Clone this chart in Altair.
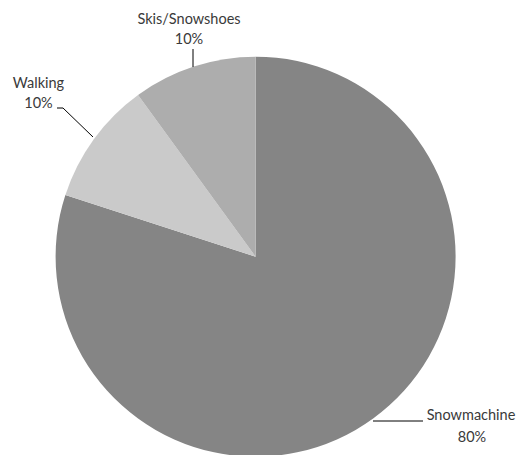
import altair as alt
import pandas as pd

# data
categories = ["Snowmachine", "Walking", "Skis/Snowshoes"]
shares = [80, 10, 10]
colors = ["#858585", "#cacaca", "#adadad"]

# layout (view coordinates, page margin 8px)
W, H = 509, 447
CX, CY, R = 247.6, 248.7, 200
label_pos = {  # name line center, percent line center
    "Snowmachine": (463, 408, 464, 430),
    "Walking": (30.5, 76, 30.5, 96),
    "Skis/Snowshoes": (181, 12, 181, 32),
}
leaders = [
    (365, 413, 415, 413),
    (49, 100, 55, 100),
    (55, 100, 85, 129),
    (185, 41, 185, 59),
]

df = pd.DataFrame({"cat": categories, "share": shares, "ord": range(len(categories))})

pie = alt.Chart(df).mark_arc(radius=R, stroke=None).encode(
    theta=alt.Theta("share:Q", stack=True),
    order=alt.Order("ord:Q"),
    color=alt.Color("cat:N", scale=alt.Scale(domain=categories, range=colors), legend=None),
    x=alt.value(CX),
    y=alt.value(CY),
)

rows = []
for c, s in zip(categories, shares):
    nx, ny, px, py = label_pos[c]
    rows.append({"t": c, "x": nx, "y": ny})
    rows.append({"t": f"{s}%", "x": px, "y": py})
tdf = pd.DataFrame(rows)

xs = alt.Scale(domain=[0, W], range=[0, W])
ys = alt.Scale(domain=[0, H], range=[0, H])

texts = alt.Chart(tdf).mark_text(font="Lato", fontSize=14.5, color="#3a3a3a", baseline="middle", align="center").encode(
    x=alt.X("x:Q", scale=xs, axis=None),
    y=alt.Y("y:Q", scale=ys, axis=None),
    text="t:N",
)

ldf = pd.DataFrame(leaders, columns=["x", "y", "x2", "y2"])
lines = alt.Chart(ldf).mark_rule(color="#000000", strokeWidth=1).encode(
    x=alt.X("x:Q", scale=xs, axis=None),
    y=alt.Y("y:Q", scale=ys, axis=None),
    x2="x2:Q",
    y2="y2:Q",
)

chart = alt.layer(pie, lines, texts).properties(
    width=W, height=H, autosize=alt.AutoSizeParams(type="none"), padding=0
).configure_view(stroke=None).resolve_scale(theta="independent")

chart.save("out.html", embed_options={"renderer": "svg", "actions": False})
